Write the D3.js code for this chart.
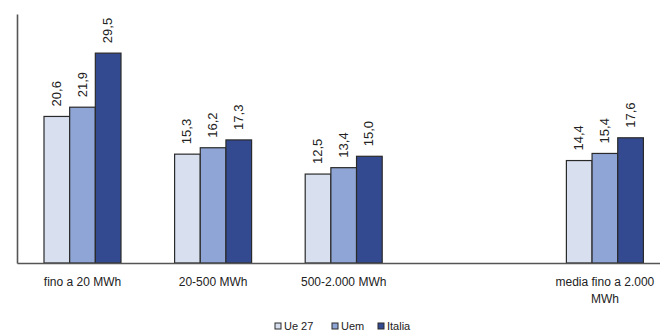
<!DOCTYPE html>
<html>
<head>
<meta charset="utf-8">
<script src="https://cdn.jsdelivr.net/npm/d3@7"></script>
<style>
  html, body { margin: 0; padding: 0; background: #fff; }
  svg { display: block; }
  text { font-family: "Liberation Sans", Arial, sans-serif; fill: #222; }
</style>
</head>
<body>
<svg id="chart" width="660" height="335"></svg>
<script>
// Consumption bands (the fourth slot is an intentional gap before the average)
const categories = ["fino a 20 MWh", "20-500 MWh", "500-2.000 MWh", "", "media fino a 2.000 MWh"];
const seriesNames = ["Ue 27", "Uem", "Italia"];
const ue27   = [20.6, 15.3, 12.5, null, 14.4];
const uem    = [21.9, 16.2, 13.4, null, 15.4];
const italia = [29.5, 17.3, 15.0, null, 17.6];
const seriesValues = [ue27, uem, italia];
const colors = ["#d8e0f0", "#8fa5d5", "#344a90"];

const fmt = v => d3.format(".1f")(v).replace(".", ",");

const svg = d3.select("#chart");
const baseY = 263, topY = 14, leftX = 17;

const x0 = d3.scaleBand().domain(categories).range([leftX, 670]).padding(0);
const x1 = d3.scaleBand().domain(seriesNames).range([27, 104]).padding(0);
const y = d3.scaleLinear().domain([0, 35]).range([baseY, topY]);

// Bars
const groups = svg.append("g").selectAll("g")
  .data(categories.map((c, i) => ({ c, i })).filter(d => d.c !== ""))
  .join("g")
  .attr("transform", d => `translate(${x0(d.c)},0)`);

groups.selectAll("rect")
  .data(d => seriesNames.map((s, k) => ({ s, k, v: seriesValues[k][d.i] })))
  .join("rect")
  .attr("x", d => x1(d.s))
  .attr("y", d => y(d.v))
  .attr("width", x1.bandwidth())
  .attr("height", d => baseY - y(d.v))
  .attr("fill", d => colors[d.k])
  .attr("stroke", "#2a2a2a")
  .attr("stroke-width", 1.2);

// Value labels, rotated
groups.selectAll("text.val")
  .data(d => seriesNames.map((s, k) => ({ s, k, v: seriesValues[k][d.i] })))
  .join("text")
  .attr("class", "val")
  .attr("transform", d => `translate(${x1(d.s) + x1.bandwidth() / 2 + 4},${y(d.v) - 10}) rotate(-90)`)
  .attr("text-anchor", "start")
  .style("font-family", "'Liberation Sans Narrow', 'Arial Narrow', sans-serif")
  .style("font-size", "13px")
  .text(d => fmt(d.v));

// Axes
const xAxis = d3.axisBottom(x0).tickSize(0).tickFormat("");
svg.append("g").attr("transform", `translate(0,${baseY})`).call(xAxis)
  .select(".domain").attr("stroke", "#555").attr("stroke-width", 1.6);

const yAxis = d3.axisLeft(y).ticks(0).tickSize(0).tickFormat("");
svg.append("g").attr("transform", `translate(${leftX},0)`).call(yAxis)
  .select(".domain").attr("stroke", "#555").attr("stroke-width", 1.6);

// Category labels (wrapped at a fixed width)
categories.forEach(c => {
  if (!c) return;
  const cx = x0(c) + 65.5;
  const lines = c.length > 16 ? ["media fino a 2.000", "MWh"] : [c];
  const t = svg.append("text")
    .attr("x", cx).attr("y", 286)
    .attr("text-anchor", "middle")
    .style("font-size", "12px");
  lines.forEach((ln, j) => {
    t.append("tspan").attr("x", cx).attr("dy", j === 0 ? 0 : 17).text(ln);
  });
});

// Legend
const legendX = [275, 332, 378];
const leg = svg.append("g").selectAll("g")
  .data(seriesNames)
  .join("g")
  .attr("transform", (d, i) => `translate(${legendX[i]},323)`);
leg.append("rect")
  .attr("width", 6).attr("height", 6)
  .attr("fill", (d, i) => colors[i])
  .attr("stroke", "#2a2a2a").attr("stroke-width", 1);
leg.append("text")
  .attr("x", 9).attr("y", 7)
  .style("font-size", "11px")
  .text(d => d);
</script>
</body>
</html>
